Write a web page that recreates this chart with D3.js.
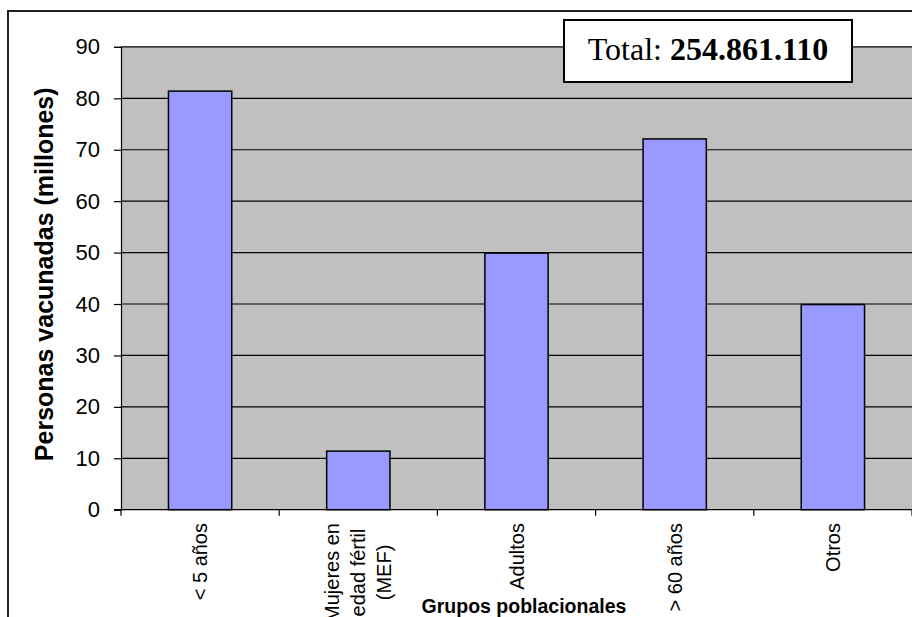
<!DOCTYPE html>
<html>
<head>
  <meta charset="utf-8">
  <title>vacunados</title>
  <style>
    body { margin: 0; background: #fff; }
    svg { display: block; }
  </style>
</head>
<body>
<script src="https://cdnjs.cloudflare.com/ajax/libs/d3/7.8.5/d3.min.js"></script>
<script>
// data (millions)
const categories = [
  ["< 5 años"],
  ["Mujeres en", "edad fértil", "(MEF)"],
  ["Adultos"],
  ["> 60 años"],
  ["Otros"]
];
const values = [81.4, 11.4, 49.9, 72.1, 39.9];
const yTicks = [0, 10, 20, 30, 40, 50, 60, 70, 80, 90];
const totalLabel = "Total: ";
const totalValue = "254.861.110";

const width = 912, height = 617;
const plotL = 121, plotR = 912, plotT = 46.9, plotB = 509.7;

const svg = d3.select("body").append("svg")
  .attr("width", width)
  .attr("height", height);

// outer frame of the chart (cut at the right and bottom)
svg.append("path")
  .attr("d", `M8,${height + 5} L8,11 L${width + 5},11`)
  .attr("fill", "none")
  .attr("stroke", "#222")
  .attr("stroke-width", 2);

const keys = categories.map(d => d.join(" "));

const x = d3.scaleBand()
  .domain(keys)
  .range([plotL, plotR])
  .paddingInner(0.6)
  .paddingOuter(0.3);

const y = d3.scaleLinear()
  .domain([0, 90])
  .range([plotB, plotT]);

// plot area
svg.append("rect")
  .attr("x", plotL)
  .attr("y", plotT)
  .attr("width", plotR - plotL + 2)
  .attr("height", plotB - plotT)
  .attr("fill", "#c0c0c0");

// gridlines
svg.selectAll("line.grid")
  .data(yTicks.slice(1))
  .enter().append("line")
  .attr("class", "grid")
  .attr("x1", plotL).attr("x2", plotR + 2)
  .attr("y1", d => y(d)).attr("y2", d => y(d))
  .attr("stroke", "#000")
  .attr("stroke-width", 1.2);

// bars
svg.selectAll("rect.bar")
  .data(values)
  .enter().append("rect")
  .attr("class", "bar")
  .attr("x", (d, i) => x(keys[i]))
  .attr("y", d => y(d))
  .attr("width", x.bandwidth())
  .attr("height", d => plotB - y(d))
  .attr("fill", "#9999ff")
  .attr("stroke", "#000")
  .attr("stroke-width", 1.5);

// y axis
const yAxis = svg.append("g")
  .attr("transform", `translate(${plotL},0)`)
  .call(d3.axisLeft(y).tickValues(yTicks).tickSize(7).tickPadding(14));
yAxis.select(".domain").attr("stroke", "#000").attr("stroke-width", 1.2);
yAxis.selectAll(".tick line").attr("stroke", "#000").attr("stroke-width", 1.2);
yAxis.selectAll(".tick text")
  .attr("font-family", "Arial, 'Liberation Sans', sans-serif")
  .attr("font-size", 22)
  .attr("fill", "#000");

// x axis line and ticks at category boundaries
svg.append("line")
  .attr("x1", plotL - 7).attr("x2", plotR + 2)
  .attr("y1", plotB).attr("y2", plotB)
  .attr("stroke", "#000").attr("stroke-width", 1.2);

const step = x.step();
svg.selectAll("line.xtick")
  .data(d3.range(keys.length + 1))
  .enter().append("line")
  .attr("class", "xtick")
  .attr("x1", i => plotL + i * step).attr("x2", i => plotL + i * step)
  .attr("y1", plotB).attr("y2", plotB + 6)
  .attr("stroke", "#000").attr("stroke-width", 1.2);

// category labels, rotated, end at the top
const labelTop = 523;
const lineGap = 26;
const catG = svg.selectAll("g.cat")
  .data(categories)
  .enter().append("g")
  .attr("class", "cat");

catG.each(function (lines, i) {
  const g = d3.select(this);
  const texts = g.selectAll("text")
    .data(lines)
    .enter().append("text")
    .attr("text-anchor", "middle")
    .attr("font-family", "Arial, 'Liberation Sans', sans-serif")
    .attr("font-size", 20)
    .attr("fill", "#000")
    .attr("y", (d, j) => (j - (lines.length - 1) / 2) * lineGap)
    .attr("dy", "0.35em")
    .text(d => d);
  let maxLen = 0;
  texts.each(function () { maxLen = Math.max(maxLen, this.getComputedTextLength()); });
  const cx = x(keys[i]) + x.bandwidth() / 2;
  g.attr("transform", `translate(${cx},${labelTop + maxLen / 2}) rotate(-90)`);
});

// axis titles
svg.append("text")
  .attr("transform", `translate(44,${(plotT + plotB) / 2 - 4}) rotate(-90)`)
  .attr("text-anchor", "middle")
  .attr("dy", "0.35em")
  .attr("font-family", "Arial, 'Liberation Sans', sans-serif")
  .attr("font-weight", "bold")
  .attr("font-size", 25)
  .text("Personas vacunadas (millones)");

svg.append("text")
  .attr("x", 524)
  .attr("y", 613)
  .attr("text-anchor", "middle")
  .attr("font-family", "Arial, 'Liberation Sans', sans-serif")
  .attr("font-weight", "bold")
  .attr("font-size", 19.5)
  .text("Grupos poblacionales");

// total box
svg.append("rect")
  .attr("x", 564).attr("y", 20)
  .attr("width", 288).attr("height", 62)
  .attr("fill", "#fff")
  .attr("stroke", "#000")
  .attr("stroke-width", 2);

const tot = svg.append("text")
  .attr("x", 708)
  .attr("y", 60)
  .attr("text-anchor", "middle")
  .attr("font-family", "'Times New Roman', 'Liberation Serif', serif")
  .attr("font-size", 32)
  .attr("fill", "#000");
tot.append("tspan").text(totalLabel);
tot.append("tspan").attr("font-weight", "bold").text(totalValue);
</script>
</body>
</html>
